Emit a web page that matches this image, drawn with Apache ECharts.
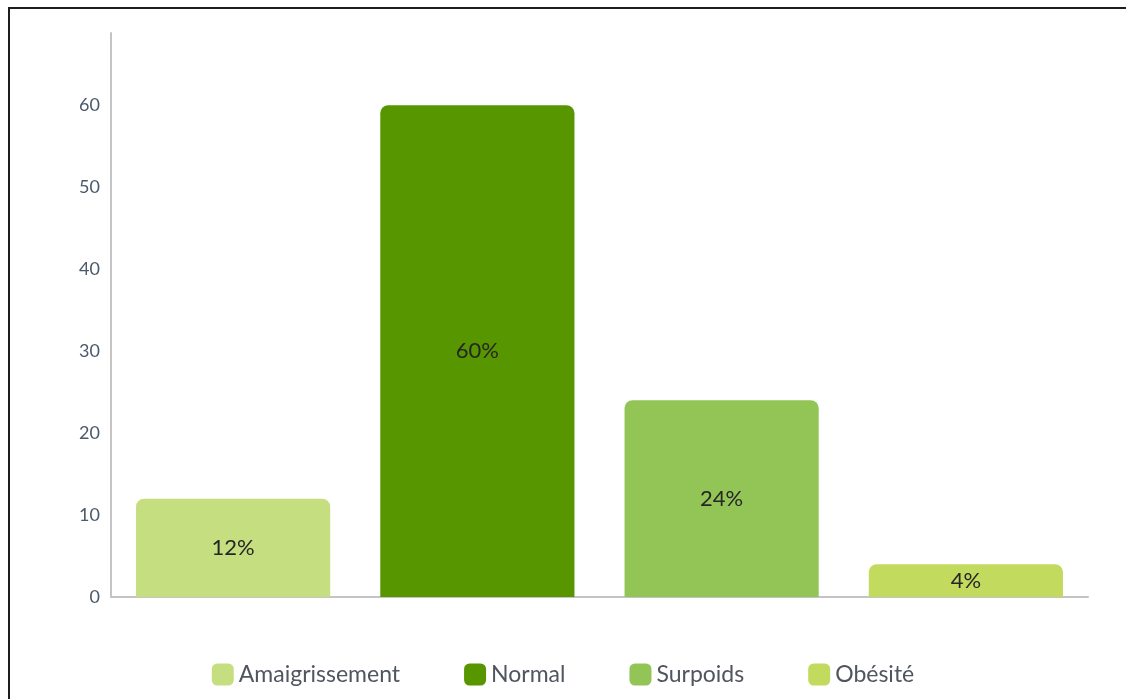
<!DOCTYPE html>
<html>
<head>
<meta charset="utf-8">
<script src="https://cdn.jsdelivr.net/npm/echarts@6/dist/echarts.min.js"></script>
<style>
  html, body { margin: 0; padding: 0; background: #fff; overflow: hidden; }
  #frame { position: absolute; left: 8px; top: 7px; width: 1300px; height: 900px; border: 2px solid #1e1e1e; box-sizing: border-box; }
  #chart { position: absolute; left: 0; top: 0; width: 1126px; height: 699px; }
</style>
</head>
<body>
<div id="frame"></div>
<div id="chart"></div>
<script>
// IMC categories and share of patients (%)
const categories = ['Amaigrissement', 'Normal', 'Surpoids', 'Obésité'];
const values = [12, 60, 24, 4];
const colors = ['#c5df80', '#589600', '#93c556', '#c2da5e'];
const yTicks = [0, 10, 20, 30, 40, 50, 60];

const chart = echarts.init(document.getElementById('chart'), null, { renderer: 'canvas' });

// one series per category so each gets its own legend entry; stacking keeps bars centred
const series = categories.map((name, i) => ({
  name: name,
  type: 'bar',
  stack: 'imc',
  barWidth: '79.5%',
  itemStyle: { color: colors[i], borderRadius: [8, 8, 0, 0] },
  label: {
    show: true,
    position: 'inside',
    formatter: '{c}%',
    color: '#262626',
    fontFamily: 'Lato',
    fontSize: 22
  },
  data: categories.map((c, j) => (j === i ? values[i] : '-'))
}));

chart.setOption({
  animation: false,
  backgroundColor: 'transparent',
  grid: { left: 111, right: 38, top: 33, bottom: 102, containLabel: false },
  legend: {
    top: 658,
    left: 'center',
    itemWidth: 22,
    itemHeight: 22,
    itemGap: 64,
    icon: 'roundRect',
    textStyle: { fontFamily: 'Lato', fontSize: 23, color: '#50555f' },
    data: categories
  },
  xAxis: {
    type: 'category',
    data: categories,
    axisLine: { lineStyle: { color: '#c4c4c4', width: 2 } },
    axisTick: { show: false },
    axisLabel: { show: false }
  },
  yAxis: {
    type: 'value',
    min: yTicks[0],
    max: 68.8,
    interval: 10,
    axisLine: { show: true, lineStyle: { color: '#c4c4c4', width: 2 } },
    axisTick: { show: false },
    splitLine: { show: false },
    axisLabel: {
      showMaxLabel: false,
      margin: 11,
      fontFamily: 'Lato',
      fontSize: 18,
      color: '#4b5a6a',
      formatter: v => (yTicks.includes(v) ? String(v) : '')
    }
  },
  series: series
});
</script>
</body>
</html>
